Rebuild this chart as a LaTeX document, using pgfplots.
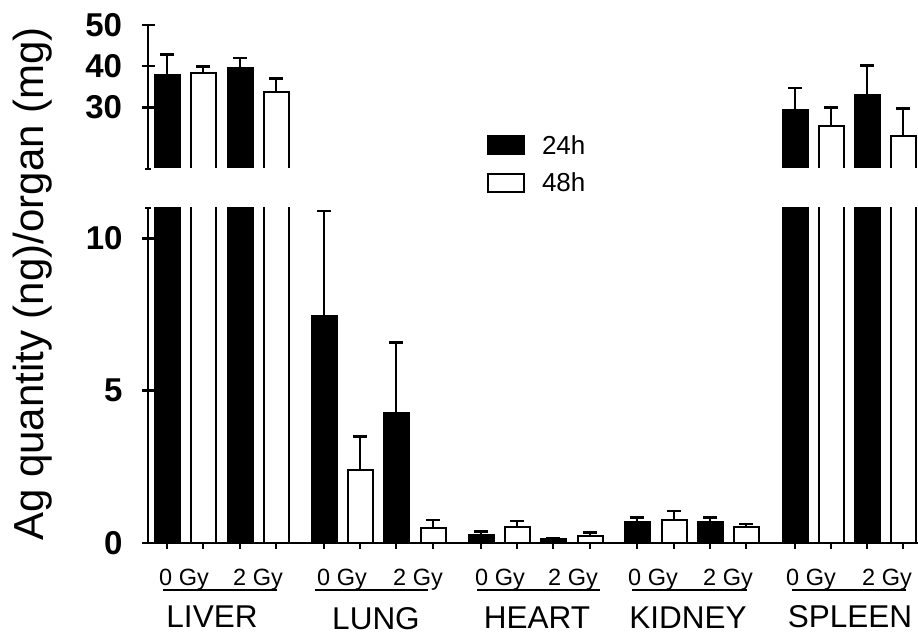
\documentclass[border=0pt]{standalone}
\usepackage{pgfplots}
\usepackage{pgfplotstable}
\pgfplotsset{compat=1.18}
\usepackage{fontspec}
\setmainfont{Liberation Sans}

\pgfplotstableread{
x y e
167 37.85 5.0
240 39.62 2.3
324 7.45 3.45
396 4.26 2.33
481 0.26 0.11
553 0.12 0.03
637 0.70 0.13
710 0.70 0.13
795 29.34 5.3
867 33.06 7.05
}\tfour

\pgfplotstableread{
x y e
203 38.26 1.6
276 33.64 3.4
360 2.40 1.09
433 0.50 0.26
517 0.53 0.19
590 0.23 0.11
674 0.75 0.30
746 0.52 0.10
831 25.45 4.45
903 23.02 6.7
}\teight

\pgfplotsset{
  brk/.style={scale only axis, width=770pt, xmin=148, xmax=918, clip=true,
    every tick/.style={line width=2.5pt, black},
    tick style={line width=2.5pt, black},
    major tick style={line width=2.5pt, black},
    tick align=outside,
    major tick length=13pt,
    yticklabel style={font=\fontsize{33}{40}\selectfont\bfseries, xshift=-16pt},
    /pgf/number format/assume math mode=true,
  },
  noarrow/.style={axis line style={-, line width=2.5pt, black},
    every outer x axis line/.append style={-},
    every outer y axis line/.append style={-},
    every inner x axis line/.append style={-},
    every inner y axis line/.append style={-}},
  barsty/.style={ybar, bar width=25pt, bar shift=0pt, draw=black, line width=2pt, fill=#1,
    error bars/y dir=plus, error bars/y explicit,
    error bars/error bar style={line width=2.5pt, black, fill=none},
    error bars/error mark options={rotate=90, mark size=7pt, line width=2.5pt, black}},
}

\begin{document}
\begin{tikzpicture}
\useasboundingbox (0pt,0pt) rectangle (918pt,635pt);

% upper segment
\begin{axis}[brk, at={(148pt,466pt)}, anchor=south west, height=144pt,
  ymin=15, ymax=50, axis x line=none, axis y line=left, noarrow,
  ytick={30,40,50}, extra y ticks={15}, extra y tick labels={},
  extra y tick style={major tick length=6pt},
  legend style={at={(0.44,0.25)}, anchor=north west, draw=none, fill=none,
    inner sep=0pt, font=\fontsize{26}{30}\selectfont, row sep=13pt,
    /tikz/every odd column/.append style={column sep=15pt}},
  legend cell align=left]
\begin{scope}
\clip (axis cs:148,15.35) rectangle (axis cs:918,60);
\addplot[forget plot, barsty=black, restrict y to domain=15:100] table[x=x, y=y, y error=e] {\tfour};
\addplot[forget plot, barsty=white, restrict y to domain=15:100] table[x=x, y=y, y error=e] {\teight};
\end{scope}
\addlegendimage{legend image code/.code={\draw[fill=black,draw=black,line width=2pt] (0pt,-9pt) rectangle (36pt,9pt);}}
\addlegendentry{24h}
\addlegendimage{legend image code/.code={\draw[fill=white,draw=black,line width=2pt] (0pt,-9pt) rectangle (36pt,9pt);}}
\addlegendentry{48h}
\end{axis}

% lower segment
\begin{axis}[brk, at={(148pt,92pt)}, anchor=south west, height=335pt,
  ymin=0, ymax=11, axis lines=left, noarrow, major tick length=12pt,
  ytick={0,5,10}, extra y ticks={11}, extra y tick labels={},
  extra y tick style={major tick length=6pt},
  xtick={167,203,240,276,324,360,396,433,481,517,553,590,637,674,710,746,795,831,867,903},
  xticklabels={},
  clip mode=individual]
\addplot[barsty=black] table[x=x, y=y, y error=e] {\tfour};
\addplot[barsty=white] table[x=x, y=y, y error=e] {\teight};
\begin{scope}[line width=1.5pt]
\draw ([yshift=-47pt]axis cs:163,0) -- ([yshift=-47pt]axis cs:277,0);
\draw ([yshift=-47pt]axis cs:315,0) -- ([yshift=-47pt]axis cs:428,0);
\draw ([yshift=-47pt]axis cs:477,0) -- ([yshift=-47pt]axis cs:600,0);
\draw ([yshift=-47pt]axis cs:632,0) -- ([yshift=-47pt]axis cs:747,0);
\draw ([yshift=-47pt]axis cs:792,0) -- ([yshift=-47pt]axis cs:906,0);
\end{scope}
\begin{scope}[every node/.style={anchor=base, font=\fontsize{23.5}{28}\selectfont, inner sep=0pt}]
\node at ([yshift=-42pt]axis cs:184,0) {0 Gy};
\node at ([yshift=-42pt]axis cs:258,0) {2 Gy};
\node at ([yshift=-42pt]axis cs:342,0) {0 Gy};
\node at ([yshift=-42pt]axis cs:418,0) {2 Gy};
\node at ([yshift=-42pt]axis cs:500,0) {0 Gy};
\node at ([yshift=-42pt]axis cs:573,0) {2 Gy};
\node at ([yshift=-42pt]axis cs:653,0) {0 Gy};
\node at ([yshift=-42pt]axis cs:728,0) {2 Gy};
\node at ([yshift=-42pt]axis cs:811,0) {0 Gy};
\node at ([yshift=-42pt]axis cs:887,0) {2 Gy};
\end{scope}
\begin{scope}[every node/.style={anchor=base, font=\fontsize{31.5}{36}\selectfont, inner sep=0pt}]
\node at ([yshift=-84pt]axis cs:212,0) {LIVER};
\node at ([yshift=-86pt]axis cs:376,0) {LUNG};
\node at ([yshift=-85pt]axis cs:537,0) {HEART};
\node at ([yshift=-85pt]axis cs:688,0) {KIDNEY};
\node at ([yshift=-84pt]axis cs:850,0) {SPLEEN};
\end{scope}
\end{axis}

\node[rotate=90, anchor=base, inner sep=0pt, font=\fontsize{42}{48}\selectfont] at (43pt,351pt) {Ag quantity (ng)/organ (mg)};
\end{tikzpicture}
\end{document}
